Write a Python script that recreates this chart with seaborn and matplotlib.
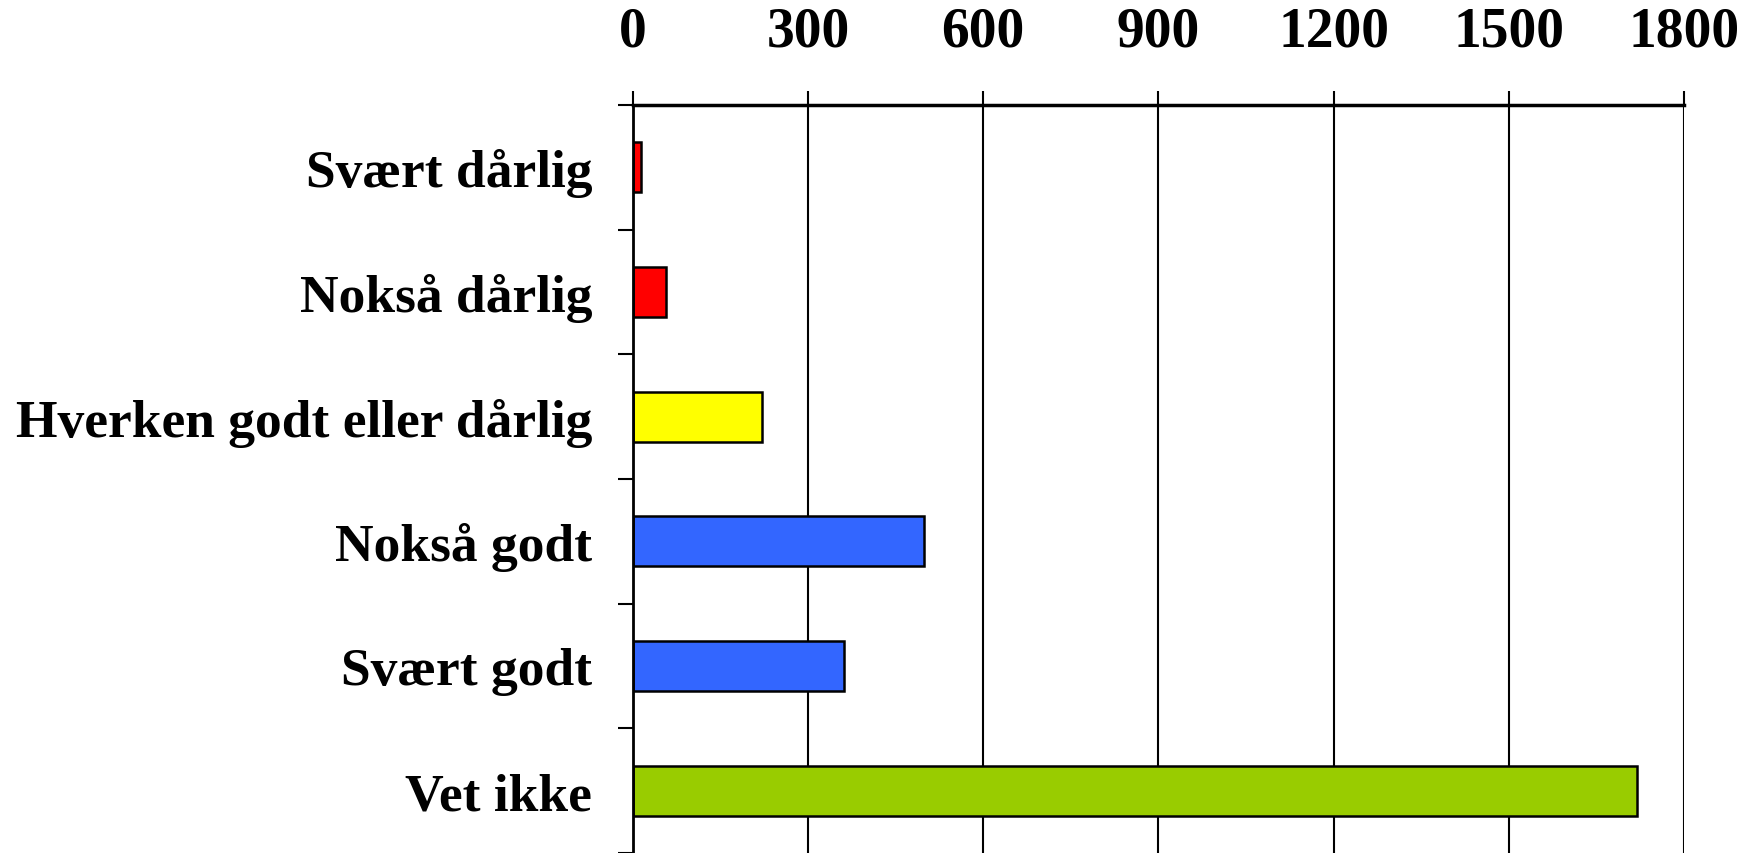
import seaborn as sns
import matplotlib.pyplot as plt
import numpy as np

# Data
categories = ['Svært dårlig', 'Nokså dårlig', 'Hverken godt eller dårlig',
              'Nokså godt', 'Svært godt', 'Vet ikke']
values = [15, 57, 221, 499, 362, 1720]
colors = ['#FF0000', '#FF0000', '#FFFF00', '#3366FF', '#3366FF', '#99CC00']
x_ticks = [0, 300, 600, 900, 1200, 1500, 1800]

sns.set_style('white')
plt.rcParams['font.family'] = ['Liberation Serif', 'DejaVu Serif']
plt.rcParams['font.weight'] = 'bold'
plt.rcParams['text.color'] = 'black'
plt.rcParams['xtick.color'] = 'black'
plt.rcParams['ytick.color'] = 'black'

fig = plt.figure(figsize=(17.52, 8.54), dpi=100)
ax = fig.add_axes([0.3611, 0.0, 0.6001, 0.8759])

sns.barplot(x=values, y=categories, hue=categories, palette=colors, orient='h',
            legend=False, edgecolor='black', linewidth=1.8, width=0.4,
            saturation=1, ax=ax)

ax.set_xlim(0, 1800)
ax.set_ylim(5.5, -0.5)
ax.set_xticks(x_ticks)
ax.xaxis.tick_top()
ax.grid(axis='x', color='black', linewidth=1.5)
ax.set_axisbelow(True)
ax.set_xlabel('')
ax.set_ylabel('')

for side in ['right', 'bottom']:
    ax.spines[side].set_visible(False)
ax.spines['top'].set_linewidth(2.5)
ax.spines['left'].set_linewidth(2)
for side in ['top', 'left']:
    ax.spines[side].set_color('black')

# tick marks sit on category boundaries, labels on centres
ax.set_yticks(np.arange(-0.5, len(categories), 1.0), minor=True)
ax.tick_params(axis='y', which='major', length=0, pad=29, labelsize=38.5)
ax.tick_params(axis='y', which='minor', length=11, width=1.5, color='black', left=True)
ax.tick_params(axis='x', which='major', top=True, length=10, width=1.5, color='black',
               pad=24, labelsize=40)
for lbl in ax.get_xticklabels() + ax.get_yticklabels():
    lbl.set_fontweight('bold')
    lbl.set_color('black')

plt.savefig('out.png', dpi=100)
plt.close()
